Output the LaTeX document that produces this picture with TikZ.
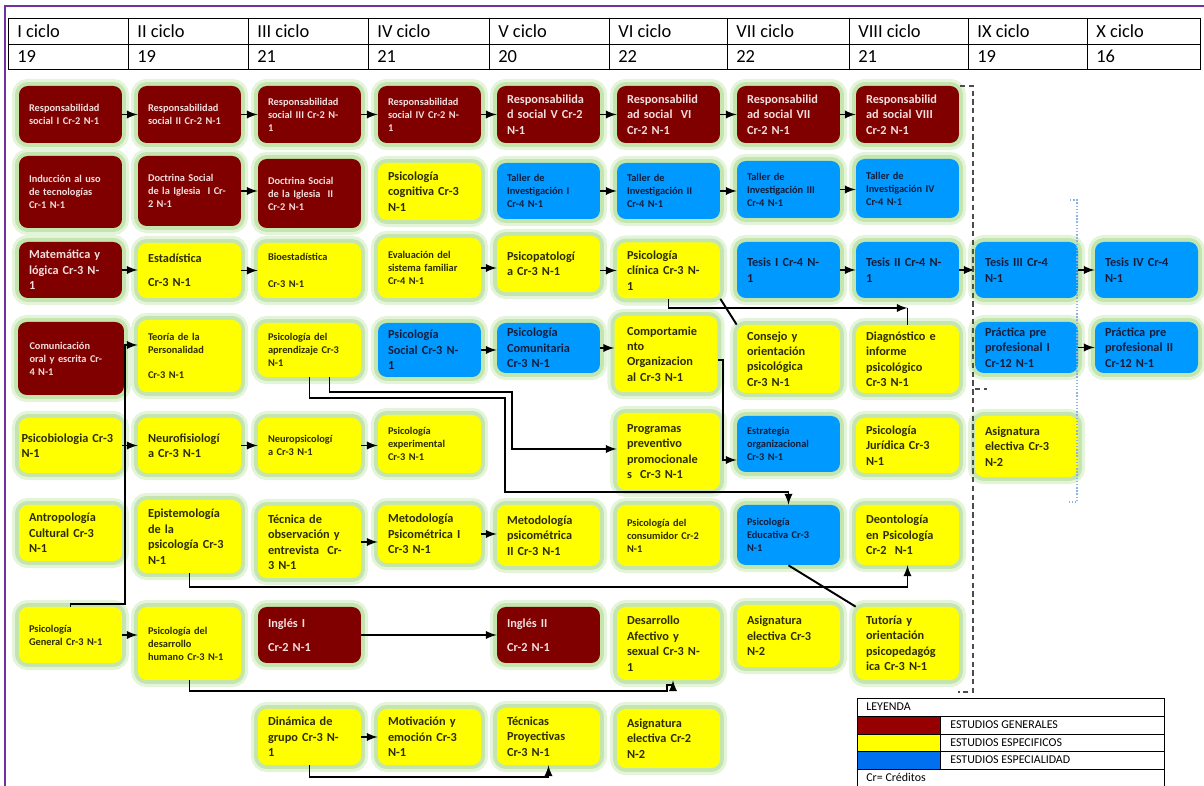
\documentclass[tikz,border=0pt]{standalone}
\usepackage{fontspec}
\setmainfont{Carlito}
\usepackage{tikz}
\usetikzlibrary{arrows}
\hyphenpenalty=10000
\exhyphenpenalty=10000
\definecolor{genred}{RGB}{128,0,0}
\definecolor{spyel}{RGB}{255,255,0}
\definecolor{esblue}{RGB}{0,153,255}
\definecolor{glow}{RGB}{196,230,174}
\definecolor{gentxt}{RGB}{242,222,222}
\definecolor{sptxt}{RGB}{45,45,0}
\definecolor{estxt}{RGB}{20,30,60}
\definecolor{lgred}{RGB}{150,0,0}
\definecolor{lgblue}{RGB}{0,112,240}
\definecolor{framepurple}{RGB}{112,48,160}
\definecolor{dotblue}{RGB}{141,179,226}

\begin{document}
\begin{tikzpicture}
		[x=0.02cm, y=-0.02cm,
		bx/.style={rounded corners=5pt, preaction={draw=glow!45, line width=8pt}, preaction={draw=glow, line width=4.5pt}, text width=1.66cm, inner xsep=0.2cm, inner ysep=1pt, align=left, minimum width=2.06cm},
		gen/.style={bx, fill=genred, text=gentxt},
		spe/.style={bx, fill=spyel, text=sptxt},
		esp/.style={bx, fill=esblue, text=estxt},
		sm/.style={font=\fontsize{5.9}{7.4}\selectfont\bfseries},
		bg/.style={font=\fontsize{7}{8.8}\selectfont\bfseries},
		hh/.style={minimum height=#1*0.02cm},
		hd/.style={anchor=west, inner sep=0pt, font=\fontsize{10.5}{12}\selectfont},
		lg/.style={anchor=west, inner sep=0pt, font=\fontsize{6.8}{8}\selectfont},
		arr/.style={-latex, line width=1.1pt},
		ln/.style={line width=1.1pt},
		gdash/.style={densely dashed, draw=black!70, line width=0.6pt},
		bdash/.style={densely dotted, draw=dotblue, line width=0.8pt}]

		\useasboundingbox (0,0) rectangle (1204,786);
		\draw[framepurple, line width=1.2pt] (5,786) -- (5,6) -- (1204,6);

		\draw (8,18) rectangle (1200,69);
		\draw (8,44) -- (1200,44);
		\foreach \xl/\cy/\cr [count=\i] in {8/I/19, 128/II/19, 248/III/21, 368/IV/21, 489/V/20, 609/VI/22, 727/VII/22, 849/VIII/21, 968/IX/19, 1087/X/16} {
			\draw (\xl,18) -- (\xl,69);
			\node[hd] (hc\i) at (\xl+9,31) {\cy\ ciclo};
			\node[hd] (hn\i) at (\xl+9,56.5) {\cr};
		}

		\node[gen,sm,hh=57] (rs1) at (70.5,114.5) {Responsabilidad\\social I Cr-2 N-1};
		\node[gen,sm,hh=57] (rs2) at (189.5,114.5) {Responsabilidad\\social II Cr-2 N-1};
		\node[gen,sm,hh=57] (rs3) at (309.5,114.5) {Responsabilidad\\social III Cr-2 N-\\1};
		\node[gen,sm,hh=57] (rs4) at (429.5,114.5) {Responsabilidad\\social IV Cr-2 N-\\1};
		\node[gen,bg,hh=57] (rs5) at (548.5,114.5) {Responsabilida\\d social V Cr-2\\N-1};
		\node[gen,bg,hh=57] (rs6) at (668.5,114.5) {Responsabilid\\ad social \ VI\\Cr-2 N-1};
		\node[gen,bg,hh=57] (rs7) at (788.5,114.5) {Responsabilid\\ad social VII\\Cr-2 N-1};
		\node[gen,bg,hh=57] (rs8) at (907.5,114.5) {Responsabilid\\ad social VIII\\Cr-2 N-1};

		\node[gen,sm,hh=72] (ind) at (70.5,192) {Inducción al uso\\de tecnologías\\Cr-1 N-1};
		\node[gen,sm,hh=70] (ds1) at (189.5,191) {Doctrina Social\\de la Iglesia \ I Cr-\\2 N-1};
		\node[gen,sm,hh=69] (ds2) at (309.5,193.5) {Doctrina Social\\de la Iglesia \ II\\Cr-2 N-1};
		\node[spe,bg,hh=57] (pcog) at (429.5,191.5) {Psicología\\cognitiva Cr-3\\N-1};
		\node[esp,sm,hh=56] (ti1) at (548.5,191) {Taller de\\Investigación I\\Cr-4 N-1};
		\node[esp,sm,hh=56] (ti2) at (668.5,191) {Taller de\\Investigación II\\Cr-4 N-1};
		\node[esp,sm,hh=57] (ti3) at (788.5,189.5) {Taller de\\Investigación III\\Cr-4 N-1};
		\node[esp,sm,hh=59] (ti4) at (907.5,188.5) {Taller de\\Investigación IV\\Cr-4 N-1};

		\node[gen,bg,hh=56] (mat) at (70.5,270) {Matemática y\\lógica Cr-3 N-\\1};
		\node[spe,bg,hh=55] (est) at (189.5,270.5) {Estadística\\[5pt]Cr-3 N-1};
		\node[spe,sm,hh=55] (bio) at (309.5,270.5) {Bioestadística\\[8pt]Cr-3 N-1};
		\node[spe,sm,hh=60] (eva) at (429.5,268) {Evaluación del\\sistema familiar\\Cr-4 N-1};
		\node[spe,bg,hh=56] (pat) at (548.5,264) {Psicopatologí\\a Cr-3 N-1};
		\node[spe,bg,hh=56] (cli) at (668.5,270.5) {Psicología\\clínica Cr-3 N-\\1};
		\node[esp,bg,hh=56] (te1) at (788.5,270) {Tesis I Cr-4 N-\\1};
		\node[esp,bg,hh=56] (te2) at (907.5,270) {Tesis II Cr-4 N-\\1};
		\node[esp,bg,hh=56] (te3) at (1026.5,270) {Tesis III Cr-4\\N-1};
		\node[esp,bg,hh=56] (te4) at (1146.5,270) {Tesis IV Cr-4\\N-1};

		\node[gen,sm,hh=73,minimum width=2.12cm] (com) at (71,358.5) {Comunicación\\oral y escrita Cr-\\4 N-1};
		\node[spe,sm,hh=72] (teo) at (189.5,356) {Teoría de la\\Personalidad\\[7pt]Cr-3 N-1};
		\node[spe,sm,hh=54] (apr) at (309.5,350) {Psicología del\\aprendizaje Cr-3\\N-1};
		\node[esp,bg,hh=54] (soc) at (429.5,350) {Psicología\\Social Cr-3 N-\\1};
		\node[esp,bg,hh=50] (cmn) at (548.5,348) {Psicología\\Comunitaria\\Cr-3 N-1};
		\node[spe,bg,hh=76,text width=1.56cm] (cmp) at (666,354) {Comportamie\\nto\\Organizacion\\al Cr-3 N-1};
		\node[spe,bg,hh=68] (con) at (788.5,359) {Consejo y\\orientación\\psicológica\\Cr-3 N-1};
		\node[spe,bg,hh=68] (dia) at (907.5,359) {Diagnóstico e\\informe\\psicológico\\Cr-3 N-1};
		\node[esp,bg,hh=51] (pp1) at (1026.5,347.5) {Práctica pre\\profesional I\\Cr-12 N-1};
		\node[esp,bg,hh=51] (pp2) at (1146.5,347.5) {Práctica pre\\profesional II\\Cr-12 N-1};

		\node[spe,bg,hh=55,text width=1.96cm,inner xsep=0.05cm] (pbio) at (70.5,445.5) {Psicobiologia Cr-3\\N-1};
		\node[spe,bg,hh=55] (nfis) at (189.5,445.5) {Neurofisiologí\\a Cr-3 N-1};
		\node[spe,sm,hh=55] (npsi) at (309.5,445.5) {Neuropsicologí\\a Cr-3 N-1};
		\node[spe,sm,hh=58] (pexp) at (429.5,444) {Psicología\\experimental\\Cr-3 N-1};
		\node[spe,bg,hh=77] (prog) at (668.5,451.5) {Programas\\preventivo\\promocionale\\s \ Cr-3 N-1};
		\node[esp,sm,hh=56] (estr) at (788.5,444) {Estrategia\\organizacional\\Cr-3 N-1};
		\node[spe,bg,hh=55] (jur) at (907.5,445.5) {Psicología\\Jurídica Cr-3\\N-1};
		\node[spe,bg,hh=61] (ael1) at (1026.5,446.5) {Asignatura\\electiva Cr-3\\N-2};

		\node[spe,bg,hh=56] (ant) at (70.5,533) {Antropología\\Cultural Cr-3\\N-1};
		\node[spe,bg,hh=73] (epi) at (189.5,536.5) {Epistemología\\de la\\psicología Cr-3\\N-1};
		\node[spe,bg,hh=72] (tob) at (309.5,542) {Técnica de\\observación y\\entrevista \ Cr-\\3 N-1};
		\node[spe,bg,hh=58] (met1) at (429.5,534) {Metodología\\Psicométrica I\\Cr-3 N-1};
		\node[spe,bg,hh=61] (met2) at (548.5,535.5) {Metodología\\psicométrica\\II Cr-3 N-1};
		\node[spe,sm,hh=61] (cons) at (668.5,535.5) {Psicología del\\consumidor Cr-2\\N-1};
		\node[esp,sm,hh=60] (edu) at (788.5,535) {Psicología\\Educativa Cr-3\\N-1};
		\node[spe,bg,hh=60] (deo) at (907.5,535) {Deontología\\en Psicología\\Cr-2 \ N-1};

		\node[spe,sm,hh=56] (pgen) at (70.5,635) {Psicología\\General Cr-3 N-1};
		\node[spe,sm,hh=73] (dh) at (189.5,643.5) {Psicología del\\desarrollo\\humano Cr-3 N-1};
		\node[gen,bg,hh=56] (ing1) at (309.5,635) {Inglés I\\[5pt]Cr-2 N-1};
		\node[gen,bg,hh=56] (ing2) at (548.5,635) {Inglés II\\[5pt]Cr-2 N-1};
		\node[spe,bg,hh=73] (afe) at (668.5,643.5) {Desarrollo\\Afectivo y\\sexual Cr-3 N-\\1};
		\node[spe,bg,hh=62] (ael2) at (788.5,636) {Asignatura\\electiva Cr-3\\N-2};
		\node[spe,bg,hh=73] (tut) at (907.5,643.5) {Tutoría y\\orientación\\psicopedagóg\\ica Cr-3 N-1};

		\node[spe,bg,hh=56] (din) at (309.5,737) {Dinámica de\\grupo Cr-3 N-\\1};
		\node[spe,bg,hh=56] (mot) at (429.5,737) {Motivación y\\emoción Cr-3\\N-1};
		\node[spe,bg,hh=57] (tec) at (548.5,736.5) {Técnicas\\Proyectivas\\Cr-3 N-1};
		\node[spe,bg,hh=59] (ael3) at (668.5,738.5) {Asignatura\\electiva Cr-2\\N-2};

		\draw[arr] (rs1.east) -- (rs1.east -| rs2.west);
		\draw[arr] (rs2.east) -- (rs2.east -| rs3.west);
		\draw[arr] (rs3.east) -- (rs3.east -| rs4.west);
		\draw[arr] (rs4.east) -- (rs4.east -| rs5.west);
		\draw[arr] (rs5.east) -- (rs5.east -| rs6.west);
		\draw[arr] (rs6.east) -- (rs6.east -| rs7.west);
		\draw[arr] (rs7.east) -- (rs7.east -| rs8.west);
		\draw[arr] (ds1.east) -- (ds1.east -| ds2.west);
		\draw[arr] (ti1.east) -- (ti1.east -| ti2.west);
		\draw[arr] (ti2.east) -- (ti2.east -| ti3.west);
		\draw[arr] (ti3.east) -- (ti3.east -| ti4.west);
		\draw[arr] (mat.east) -- (mat.east -| est.west);
		\draw[arr] (est.east) -- (est.east -| bio.west);
		\draw[arr] (eva.east) -- (eva.east -| pat.west);
		\draw[arr] (pat.east |- cli.west) -- (cli.west);
		\draw[arr] (te1.east) -- (te1.east -| te2.west);
		\draw[arr] (te2.east) -- (te2.east -| te3.west);
		\draw[arr] (te3.east) -- (te3.east -| te4.west);
		\draw[arr] (soc.east) -- (soc.east -| cmn.west);
		\draw[arr] (cmn.east) -- (cmn.east -| cmp.west);
		\draw[arr] (pp1.east) -- (pp1.east -| pp2.west);
		\draw[arr] (pbio.east) -- (pbio.east -| nfis.west);
		\draw[arr] (nfis.east) -- (nfis.east -| npsi.west);
		\draw[arr] (npsi.east) -- (npsi.east -| pexp.west);
		\draw[arr] (tob.east) -- (tob.east -| met1.west);
		\draw[arr] (met1.east) -- (met1.east -| met2.west);
		\draw[arr] (pgen.east) -- (pgen.east -| dh.west);
		\draw[arr] (ing1.east) -- (ing1.east -| ing2.west);
		\draw[arr] (din.east) -- (din.east -| mot.west);

		\draw[arr] (pgen.north) -- ++(0,-3) -| (125,345) -- (teo.west |- 125,345);
		\draw[arr] (cli.south) |- (dia.north |- 0,308);
		\draw[ln] (dia.north |- 0,308) -- (dia.north);
		\draw[ln] (cli.south east) -- (con.north west);
		\draw[arr] (cmp.east |- 0,360) -| (723,460) -- (estr.west |- 0,460);
		\draw[arr] ([xshift=0.4cm]apr.south) |- (512,392) |- (prog.west |- 0,449);
		\draw[arr] (apr.south) |- (505,398) |- (edu.north |- 0,492) -- (edu.north);
		\draw[arr] (epi.south) |- (deo.south |- 0,587) -- (deo.south);
		\draw[ln] (edu.south) -- (tut.north west);
		\draw[arr] (dh.south) |- (667,691) |- (673,685) -- (afe.south -| 673,0);
		\draw[arr] (din.south) |- (tec.south |- 0,777) -- (tec.south);

		\draw[gdash] (960,86) -- (973,86) -- (973,692) -- (958,692);
		\draw[gdash] (975,389) -- (987,389);
		\draw[bdash] (1070,200) -- (1077,200) -- (1077,502) -- (1069,502);

		\fill[lgred] (857,716) rectangle (940,734);
		\fill[spyel] (857,734) rectangle (940,751);
		\fill[lgblue] (857,751) rectangle (940,769);
		\draw (857,786) -- (857,698) -- (1164,698) -- (1164,786);
		\draw (857,716) -- (1164,716);
		\draw (857,734) -- (1164,734);
		\draw (857,751) -- (1164,751);
		\draw (857,769) -- (1164,769);
		\draw (940,716) -- (940,769);
		\node[lg] (lgh) at (866,707) {LEYENDA};
		\node[lg] (lg1) at (950,725) {ESTUDIOS GENERALES};
		\node[lg] (lg2) at (950,742.5) {ESTUDIOS ESPECIFICOS};
		\node[lg] (lg3) at (950,760) {ESTUDIOS ESPECIALIDAD};
		\node[lg] (lgc) at (866,777.5) {Cr= Créditos};

	\end{tikzpicture}
\end{document}
